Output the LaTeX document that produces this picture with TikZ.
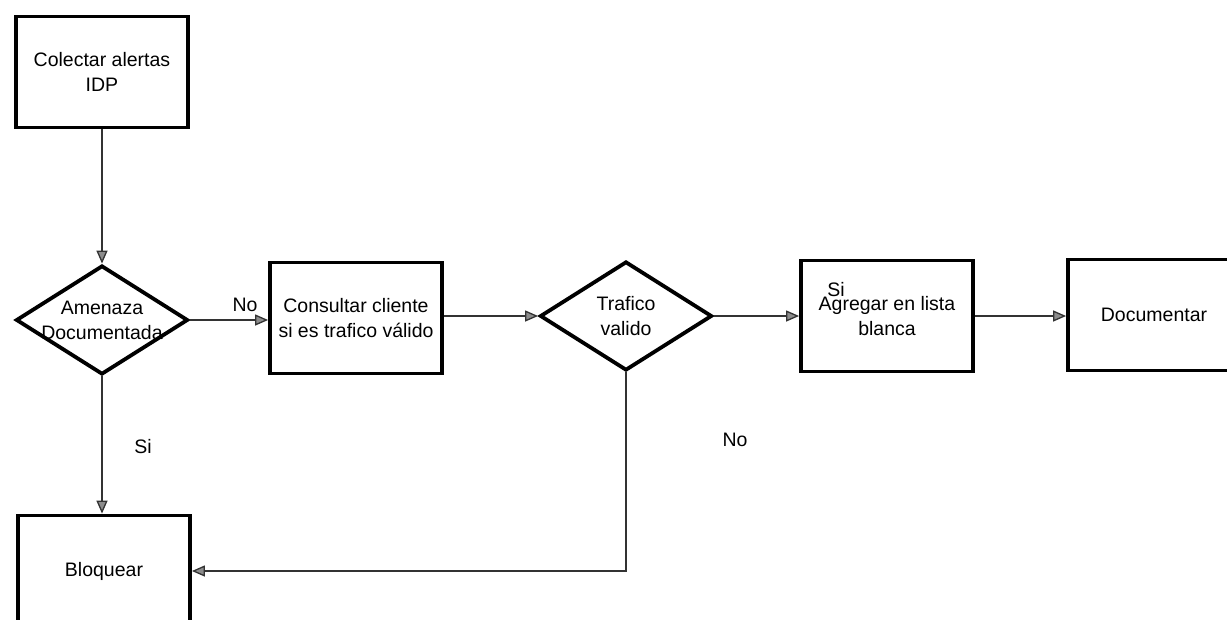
\documentclass[tikz,border=0pt]{standalone}
\usepackage{fontspec}
\setmainfont{Liberation Sans}
\usetikzlibrary{shapes.geometric,arrows.meta}
\begin{document}
\begin{tikzpicture}[x=1pt,y=-1pt,
  every node/.style={font=\fontsize{19.5}{25}\selectfont},
  stepbox/.style={draw=black,line width=3.8pt,minimum width=172pt,minimum height=111pt,inner sep=0pt,align=center},
  decision/.style={draw=black,line width=3.8pt,diamond,minimum width=172pt,minimum height=109pt,inner sep=0pt},
  txt/.style={align=center,inner sep=0pt},
  flow/.style={draw=black!80,line width=1.3pt,-{Triangle[length=13pt,width=11pt,fill=black!45]}},
  lbl/.style={inner sep=0pt}]
\useasboundingbox (0,0) rectangle (1227,619);
\clip (0,0) rectangle (1227,619);
\fill[white] (0,0) rectangle (1227,619);

% process boxes and decisions
\node[stepbox] (colectar) at (102,72) {Colectar alertas\\IDP};
\node[decision] (amenaza) at (102,320) {};
\node[txt] at (amenaza) {Amenaza\\Documentada};
\node[stepbox] (consultar) at (356,318) {Consultar cliente\\si es trafico válido};
\node[decision] (trafico) at (626,316) {};
\node[txt] at (trafico) {Trafico\\valido};
\node[stepbox] (agregar) at (887,316) {Agregar en lista\\blanca};
\node[stepbox] (documentar) at (1154,315) {Documentar};
\node[stepbox] (bloquear) at (104,571) {Bloquear};

% connectors
\draw[flow] (colectar.south) -- (amenaza.north);
\draw[flow] (amenaza.east) -- (consultar.west |- amenaza.east);
\draw[flow] (consultar.east |- trafico.west) -- (trafico.west);
\draw[flow] (trafico.east) -- (agregar.west |- trafico.east);
\draw[flow] (agregar.east) -- (documentar.west |- agregar.east);
\draw[flow] (amenaza.south) -- (amenaza.south |- bloquear.north);
\draw[flow] (trafico.south) |- (bloquear.east);

% branch labels
\node[lbl] (noA) at (245,305) {No};
\node[lbl] (siA) at (143,447) {Si};
\node[lbl] (siT) at (836,290) {Si};
\node[lbl] (noT) at (735,440) {No};
\end{tikzpicture}
\end{document}
